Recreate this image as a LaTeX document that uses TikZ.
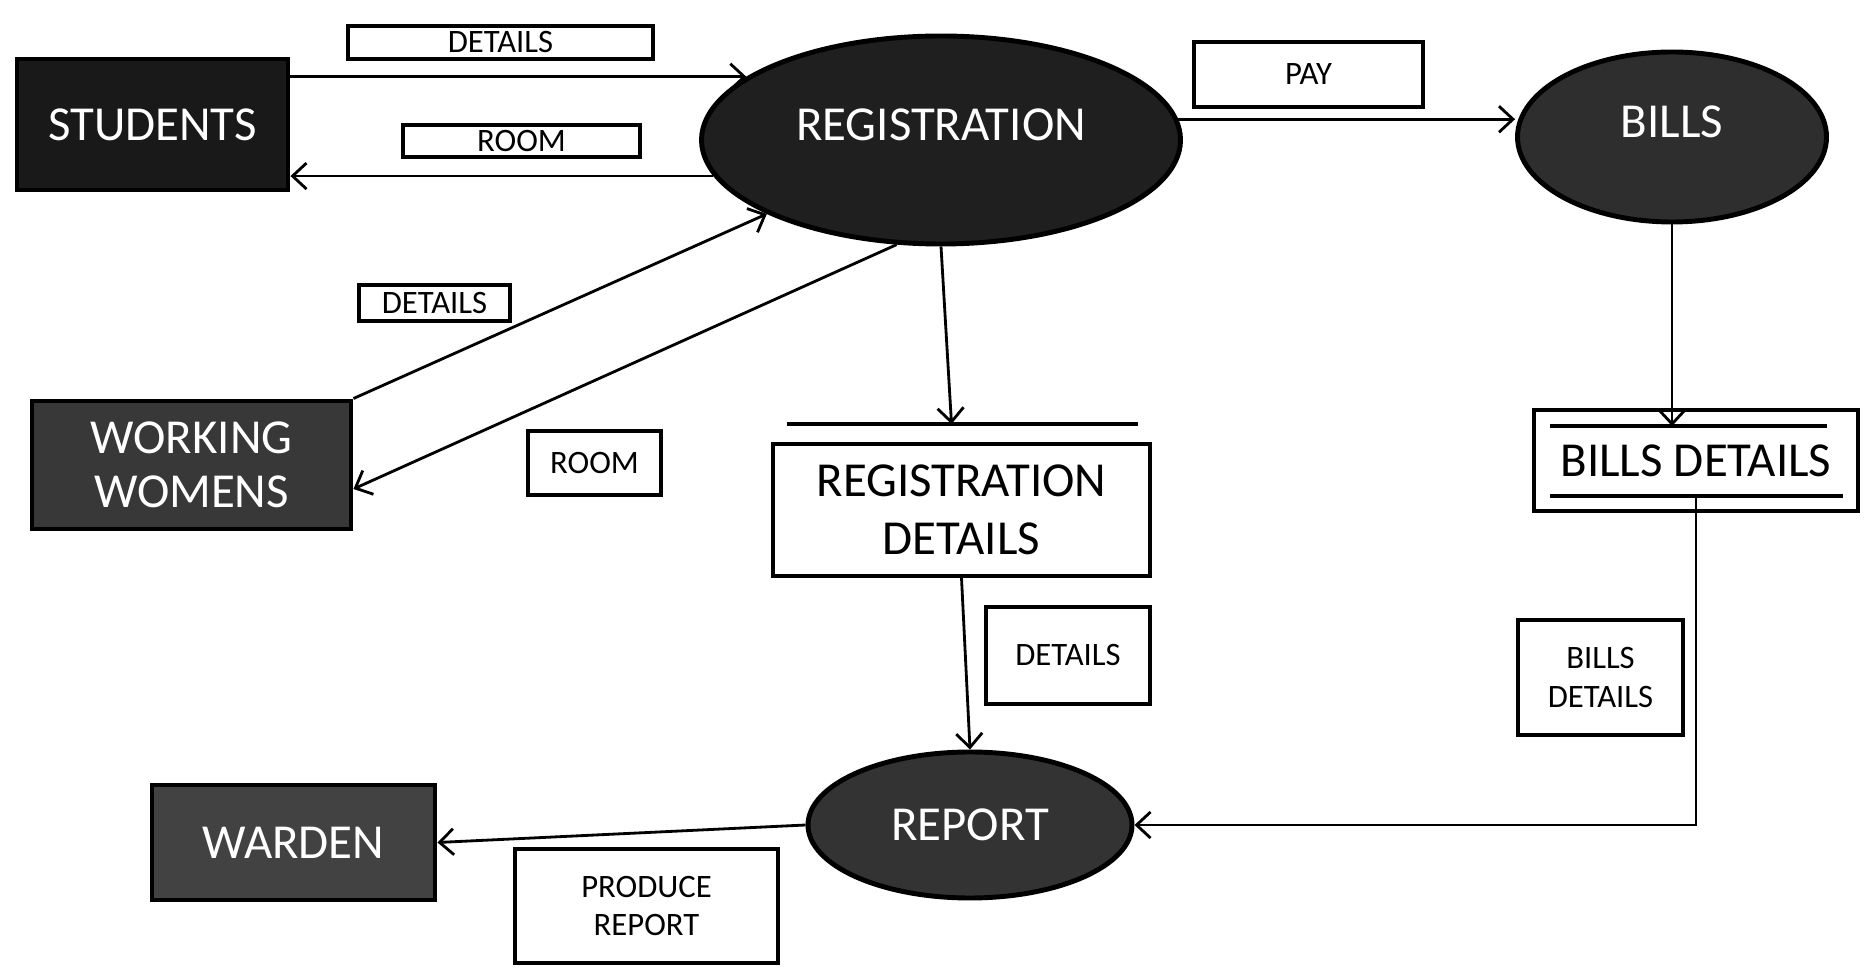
\documentclass[tikz,border=0pt]{standalone}
\usepackage{fontspec}
\setmainfont{Carlito}
\usetikzlibrary{shapes.geometric,arrows.meta,positioning}

\begin{document}
\begin{tikzpicture}[
        entity/.style={rectangle, draw, line width=1.4pt, text=white, align=center, font=\fontsize{13.9}{15.5}\selectfont, inner sep=0pt},
        process/.style={ellipse, draw, line width=1.4pt, text=white, align=center, font=\fontsize{13.9}{15.5}\selectfont, inner sep=0pt},
        lifted/.style={text depth=9pt},
        store/.style={rectangle, draw, line width=1.1pt, align=center, font=\fontsize{13.9}{16.5}\selectfont, inner sep=0pt},
        tag/.style={rectangle, draw, line width=1pt, align=center, font=\fontsize{9.3}{11}\selectfont, inner sep=0pt},
        flow/.style={-{Straight Barb[length=1.4mm,width=2.6mm]}, line width=0.8pt},
        storeline/.style={line width=1.1pt}
    ]
        \useasboundingbox (0,0) rectangle (18.65,-9.68);

        % Define nodes
        \node (registration) [process, lifted, fill=black!88, minimum width=4.79cm, minimum height=2.08cm] at (9.41,-1.40) {REGISTRATION};
        \node (students) [entity, fill=black!90, minimum width=2.71cm, minimum height=1.31cm, left of=registration, node distance=7.885cm, yshift=1.55mm] {STUDENTS};
        \node (bills) [process, lifted, fill=black!82, minimum width=3.09cm, minimum height=1.70cm, right of=registration, node distance=7.31cm, yshift=0.3mm] {BILLS};
        \node (regdet) [store, minimum width=3.77cm, minimum height=1.32cm, below of=registration, node distance=3.70cm, xshift=2.05mm] {REGISTRATION\\DETAILS};
        \node (working) [entity, fill=black!78, minimum width=3.19cm, minimum height=1.28cm, left of=regdet, node distance=7.70cm, yshift=4.5mm] {WORKING\\WOMENS};
        \node (billsdet) [store, minimum width=3.24cm, minimum height=1.01cm, right of=regdet, node distance=7.345cm, yshift=4.95mm] {BILLS DETAILS};
        \node (report) [process, fill=black!80, minimum width=3.24cm, minimum height=1.46cm, below of=regdet, node distance=3.15cm, xshift=0.85mm] {REPORT};
        \node (warden) [entity, fill=black!74, minimum width=2.83cm, minimum height=1.15cm, left of=report, node distance=6.765cm, yshift=-1.75mm] {WARDEN};

        % Flow labels
        \node (tagDetailsA) [tag, minimum width=3.05cm, minimum height=0.33cm] at (5.005,-0.425) {DETAILS};
        \node (tagRoomA) [tag, minimum width=2.37cm, minimum height=0.32cm] at (5.215,-1.41) {ROOM};
        \node (tagPay) [tag, minimum width=2.29cm, minimum height=0.65cm] at (13.085,-0.745) {PAY};
        \node (tagDetailsB) [tag, minimum width=1.51cm, minimum height=0.36cm] at (4.345,-3.03) {DETAILS};
        \node (tagRoomB) [tag, minimum width=1.33cm, minimum height=0.64cm] at (5.945,-4.63) {ROOM};
        \node (tagDetailsC) [tag, minimum width=1.64cm, minimum height=0.97cm] at (10.68,-6.555) {DETAILS};
        \node (tagBills) [tag, minimum width=1.65cm, minimum height=1.15cm] at (16.005,-6.775) {BILLS\\DETAILS};
        \node (tagProduce) [tag, minimum width=2.63cm, minimum height=1.14cm] at (6.465,-9.06) {PRODUCE\\REPORT};

        % Store lines
        \coordinate (regline) at ([yshift=1.8mm]regdet.north);
        \coordinate (billstop) at ([yshift=-1.8mm]billsdet.north);
        \coordinate (billsbottom) at ([yshift=1.7mm]billsdet.south);
        \draw[storeline] ([xshift=1.6mm]regdet.west |- regline) -- ([xshift=-1.4mm]regdet.east |- regline);
        \draw[storeline] ([xshift=1.8mm]billsdet.west |- billstop) -- ([xshift=-3.3mm]billsdet.east |- billstop);
        \draw[storeline] ([xshift=1.8mm]billsdet.west |- billsbottom) -- ([xshift=-1.7mm]billsdet.east |- billsbottom);

        % Draw arrows
        \draw[flow] (students.east |- registration.162) -- (registration.162);
        \draw[flow] (registration.189) -- (registration.189 -| students.east);
        \draw[flow] (working.north east) -- (registration.203);
        \draw[flow] (registration.247) -- ([yshift=-2.4mm]working.east);
        \draw[flow] (registration.5) -- (registration.5 -| bills.west);
        \draw[flow] (registration.south) -- ([xshift=-1mm]regline);
        \draw[flow] (bills.south) -- (bills.south |- billstop);
        \draw[flow] (billsbottom) |- (report.east);
        \draw[flow] (regdet.south) -- (report.north);
        \draw[flow] (report.west) -- (warden.east);
    \end{tikzpicture}
\end{document}
